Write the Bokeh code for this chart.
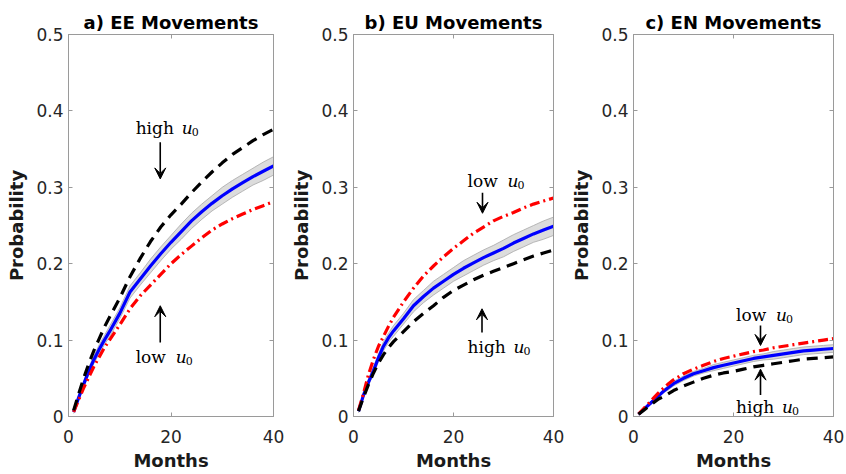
from bokeh.plotting import figure
from bokeh.layouts import row
from bokeh.models import FixedTicker, LinearAxis, Label, Arrow, VeeHead, Range1d
from bokeh.embed import file_html
from bokeh.resources import INLINE

# ---------------- data ----------------
months = [1, 2, 3, 4, 5, 6, 7, 8, 10, 12, 14, 16, 18, 20, 22, 24, 26, 28, 30, 32, 34, 36, 38, 40]

# a) EE movements
ee_mean = [0.006, 0.025, 0.043, 0.060, 0.075, 0.088, 0.100, 0.111, 0.135, 0.163, 0.180, 0.197,
           0.213, 0.228, 0.242, 0.256, 0.268, 0.279, 0.289, 0.298, 0.306, 0.314, 0.321, 0.328]
ee_lo = [0.004, 0.022, 0.039, 0.055, 0.070, 0.082, 0.094, 0.104, 0.128, 0.155, 0.172, 0.188,
         0.204, 0.219, 0.232, 0.246, 0.258, 0.269, 0.278, 0.287, 0.295, 0.303, 0.309, 0.316]
ee_hi = [0.008, 0.028, 0.047, 0.065, 0.080, 0.094, 0.106, 0.118, 0.142, 0.171, 0.188, 0.206,
         0.222, 0.237, 0.252, 0.266, 0.278, 0.289, 0.300, 0.309, 0.317, 0.325, 0.333, 0.340]
ee_high_u0 = [0.008, 0.030, 0.051, 0.070, 0.087, 0.102, 0.117, 0.130, 0.155, 0.183, 0.207, 0.229,
              0.248, 0.264, 0.278, 0.293, 0.307, 0.320, 0.332, 0.343, 0.352, 0.361, 0.369, 0.376]
ee_low_u0 = [0.006, 0.022, 0.038, 0.052, 0.066, 0.078, 0.090, 0.100, 0.120, 0.141, 0.158, 0.172,
             0.186, 0.200, 0.212, 0.223, 0.234, 0.244, 0.252, 0.259, 0.265, 0.271, 0.276, 0.281]

# b) EU movements
eu_mean = [0.007, 0.028, 0.045, 0.060, 0.077, 0.092, 0.103, 0.112, 0.128, 0.145, 0.157, 0.168,
           0.177, 0.186, 0.194, 0.201, 0.208, 0.214, 0.220, 0.227, 0.233, 0.239, 0.244, 0.249]
eu_lo = [0.005, 0.025, 0.041, 0.055, 0.072, 0.086, 0.097, 0.105, 0.121, 0.137, 0.149, 0.159,
         0.168, 0.177, 0.184, 0.191, 0.198, 0.204, 0.209, 0.216, 0.222, 0.228, 0.232, 0.237]
eu_hi = [0.009, 0.031, 0.049, 0.065, 0.082, 0.098, 0.109, 0.119, 0.135, 0.153, 0.165, 0.177,
         0.186, 0.195, 0.204, 0.211, 0.218, 0.224, 0.231, 0.238, 0.244, 0.250, 0.256, 0.261]
eu_high_u0 = [0.007, 0.025, 0.042, 0.057, 0.070, 0.081, 0.090, 0.098, 0.111, 0.124, 0.135, 0.145,
              0.156, 0.165, 0.172, 0.179, 0.185, 0.190, 0.195, 0.200, 0.205, 0.210, 0.214, 0.218]
eu_low_u0 = [0.008, 0.030, 0.055, 0.075, 0.092, 0.105, 0.118, 0.130, 0.150, 0.168, 0.184, 0.197,
             0.209, 0.220, 0.230, 0.240, 0.248, 0.256, 0.262, 0.267, 0.273, 0.278, 0.282, 0.286]

# c) EN movements
en_mean = [0.003, 0.009, 0.015, 0.021, 0.027, 0.033, 0.038, 0.043, 0.050, 0.056, 0.060, 0.064,
           0.067, 0.070, 0.073, 0.076, 0.078, 0.080, 0.082, 0.084, 0.086, 0.087, 0.088, 0.089]
en_lo = [0.002, 0.008, 0.013, 0.019, 0.025, 0.031, 0.035, 0.040, 0.047, 0.053, 0.057, 0.060,
         0.063, 0.066, 0.069, 0.072, 0.074, 0.075, 0.077, 0.079, 0.081, 0.082, 0.083, 0.084]
en_hi = [0.004, 0.010, 0.017, 0.023, 0.029, 0.035, 0.041, 0.046, 0.053, 0.059, 0.063, 0.068,
         0.071, 0.074, 0.077, 0.080, 0.082, 0.085, 0.087, 0.089, 0.091, 0.092, 0.093, 0.094]
en_high_u0 = [0.003, 0.008, 0.013, 0.018, 0.023, 0.026, 0.030, 0.034, 0.040, 0.045, 0.050, 0.054,
              0.057, 0.059, 0.062, 0.065, 0.067, 0.069, 0.071, 0.073, 0.075, 0.076, 0.077, 0.078]
en_low_u0 = [0.003, 0.010, 0.017, 0.024, 0.031, 0.037, 0.043, 0.048, 0.056, 0.062, 0.067, 0.072,
             0.076, 0.079, 0.082, 0.085, 0.087, 0.090, 0.092, 0.094, 0.096, 0.098, 0.100, 0.102]

x_ticks = [0, 20, 40]
x_tick_labels = ["0", "20", "40"]
y_ticks = [0, 0.1, 0.2, 0.3, 0.4, 0.5]
y_tick_labels = ["0", "0.1", "0.2", "0.3", "0.4", "0.5"]

titles = ["a) EE Movements", "b) EU Movements", "c) EN Movements"]
x_label = "Months"
y_label = "Probability"

# ---------------- styling ----------------
SANS = "DejaVu Sans"
SERIF = "DejaVu Serif"
FRAME = "#9a9a9a"
TICKTXT = "#262626"


def annotate(p, word, lx, ly, u_off, ax, ay0, ay1):
    p.add_layout(Label(x=lx, y=ly, text=word, text_font=SERIF, text_font_size="17px",
                       text_color="black", text_baseline="alphabetic", text_align="left"))
    p.add_layout(Label(x=lx, y=ly, x_offset=u_off, text="u", text_font=SERIF,
                       text_font_style="italic", text_font_size="17px", text_color="black",
                       text_baseline="alphabetic", text_align="left"))
    p.add_layout(Label(x=lx, y=ly, x_offset=u_off + 10, y_offset=-4, text="0", text_font=SERIF,
                       text_font_size="11px", text_color="black",
                       text_baseline="alphabetic", text_align="left"))
    p.add_layout(Arrow(x_start=ax, y_start=ay0, x_end=ax, y_end=ay1, line_width=1.6,
                       line_color="black",
                       end=VeeHead(size=11, line_color="black", fill_color="black", line_width=1)))


def tick_only_axis(ticks):
    return LinearAxis(ticker=FixedTicker(ticks=ticks), major_label_text_font_size="1px",
                      major_label_text_color=None, major_label_standoff=0,
                      major_tick_in=4, major_tick_out=0,
                      axis_line_color=FRAME, major_tick_line_color=FRAME,
                      minor_tick_line_color=None)


def make_panel(title, mean, lo, hi, high, low, width, bl, br, notes):
    p = figure(width=width, height=474, output_backend="svg", toolbar_location=None,
               x_range=Range1d(0, 40), y_range=Range1d(0, 0.5),
               min_border_left=bl, min_border_right=br, min_border_top=34, min_border_bottom=58,
               title=title)
    p.title.text_font = SANS
    p.title.text_font_size = "18px"
    p.title.text_font_style = "bold"
    p.title.text_color = "black"
    p.title.align = "center"
    p.title.standoff = 3
    p.background_fill_color = "white"
    p.border_fill_color = "white"
    p.outline_line_color = FRAME
    p.outline_line_width = 1
    p.xgrid.visible = False
    p.ygrid.visible = False

    p.varea(x=months, y1=lo, y2=hi, fill_color="#dcdcdc", fill_alpha=1.0)
    p.line(months, lo, line_color="#a8a8a8", line_width=0.8)
    p.line(months, hi, line_color="#a8a8a8", line_width=0.8)
    p.line(months, mean, line_color="#0000ff", line_width=3.2)
    p.line(months, low, line_color="#ff0000", line_width=3.2, line_dash="10 4 2 4")
    p.line(months, high, line_color="black", line_width=3.2, line_dash="11 7")

    for ax_ in (p.xaxis[0], p.yaxis[0]):
        ax_.axis_line_color = FRAME
        ax_.major_tick_line_color = FRAME
        ax_.major_tick_in = 4
        ax_.major_tick_out = 0
        ax_.minor_tick_line_color = None
        ax_.major_label_text_font = SANS
        ax_.major_label_text_font_size = "17px"
        ax_.major_label_text_color = TICKTXT
        ax_.axis_label_text_font = SANS
        ax_.axis_label_text_font_size = "18px"
        ax_.axis_label_text_font_style = "bold"
        ax_.axis_label_text_color = "#1a1a1a"

    p.xaxis[0].ticker = FixedTicker(ticks=x_ticks)
    p.xaxis[0].major_label_overrides = dict(zip(x_ticks, x_tick_labels))
    p.xaxis[0].axis_label = x_label
    p.xaxis[0].major_label_standoff = 13
    p.xaxis[0].axis_label_standoff = 4

    p.yaxis[0].ticker = FixedTicker(ticks=y_ticks)
    p.yaxis[0].major_label_overrides = dict(zip(y_ticks, y_tick_labels))
    p.yaxis[0].axis_label = y_label
    p.yaxis[0].major_label_standoff = 5
    p.yaxis[0].axis_label_standoff = 6

    p.add_layout(tick_only_axis(x_ticks), "above")
    p.add_layout(tick_only_axis(y_ticks), "right")

    for n in notes:
        annotate(p, *n)
    return p


pa = make_panel(titles[0], ee_mean, ee_lo, ee_hi, ee_high_u0, ee_low_u0, 288, 68, 15,
                [("high", 13.1, 0.377, 46, 17.9, 0.359, 0.311),
                 ("low", 13.1, 0.078, 40, 17.9, 0.097, 0.145)])
pb = make_panel(titles[1], eu_mean, eu_lo, eu_hi, eu_high_u0, eu_low_u0, 280, 60, 15,
                [("low", 22.8, 0.308, 40, 25.8, 0.293, 0.266),
                 ("high", 22.8, 0.091, 46, 25.7, 0.110, 0.141)])
pc = make_panel(titles[2], en_mean, en_lo, en_hi, en_high_u0, en_low_u0, 278, 60, 13,
                [("low", 20.5, 0.133, 40, 25.4, 0.119, 0.093),
                 ("high", 20.5, 0.012, 46, 25.4, 0.028, 0.062)])

layout = row(pa, pb, pc)
open("out.html", "w").write(file_html(layout, INLINE))
